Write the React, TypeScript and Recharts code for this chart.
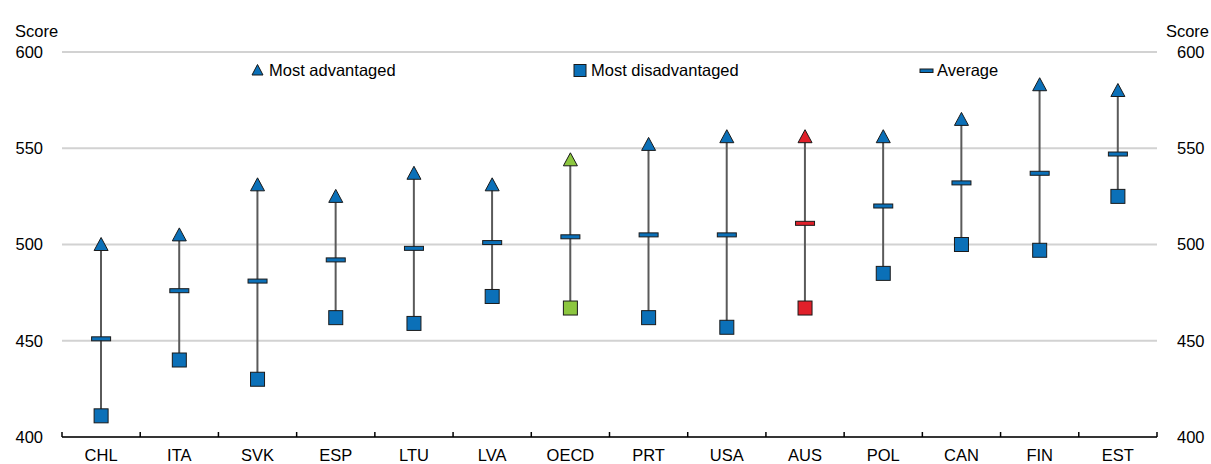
import { ComposedChart, Bar, Scatter, XAxis, YAxis, CartesianGrid } from 'recharts'

const categories = ['CHL', 'ITA', 'SVK', 'ESP', 'LTU', 'LVA', 'OECD', 'PRT', 'USA', 'AUS', 'POL', 'CAN', 'FIN', 'EST']
const mostAdvantaged = [500, 505, 531, 525, 537, 531, 544, 552, 556, 556, 556, 565, 583, 580]
const average = [451, 476, 481, 492, 498, 501, 504, 505, 505, 511, 520, 532, 537, 547]
const mostDisadvantaged = [411, 440, 430, 462, 459, 473, 467, 462, 457, 467, 485, 500, 497, 525]
const yTicks = [400, 450, 500, 550, 600]

const data = categories.map((country, i) => ({
  country,
  high: mostAdvantaged[i],
  avg: average[i],
  low: mostDisadvantaged[i],
  range: [mostDisadvantaged[i], mostAdvantaged[i]],
}))

const BLUE = '#0b70b8'
const EDGE = '#1a1a1a'
const FONT = '"Liberation Sans", Arial, sans-serif'
const FS = 16.5

// OECD and AUS are highlighted (average dash stays blue for OECD)
const markerColor = (country: string, series: 'high' | 'avg' | 'low') => {
  if (country === 'AUS') return '#e0202a'
  if (country === 'OECD' && series !== 'avg') return '#8cc63f'
  return BLUE
}

const Triangle = ({ cx, cy, payload }: any) => (
  <polygon
    points={`${cx},${cy - 7} ${cx - 7},${cy + 6} ${cx + 7},${cy + 6}`}
    fill={markerColor(payload.country, 'high')}
    stroke={EDGE}
    strokeWidth={1}
  />
)

const Square = ({ cx, cy, payload }: any) => (
  <rect x={cx - 7} y={cy - 7} width={14} height={14}
    fill={markerColor(payload.country, 'low')} stroke={EDGE} strokeWidth={1} />
)

const Dash = ({ cx, cy, payload }: any) => (
  <rect x={cx - 9.5} y={cy - 2} width={19} height={4}
    fill={markerColor(payload.country, 'avg')} stroke={EDGE} strokeWidth={1} />
)

const Nothing = () => <g />

const CountryTick = ({ x, y, payload, index }: any) => {
  const half = payload.offset ?? 39
  return (
    <g>
      <line x1={x - half} x2={x - half} y1={y} y2={y - 5} stroke="#000" strokeWidth={1.5} />
      {index === categories.length - 1 && (
        <line x1={x + half} x2={x + half} y1={y} y2={y - 5} stroke="#000" strokeWidth={1.5} />
      )}
      <text x={x} y={y + 24} textAnchor="middle" fontSize={FS} fill="#000" fontFamily={FONT}>
        {payload.value}
      </text>
    </g>
  )
}

const LegendOverlay = () => {
  const item = (left: number, icon: any, text: string) => (
    <div style={{ position: 'absolute', left, top: 0, display: 'flex', alignItems: 'center', whiteSpace: 'nowrap' }}>
      <svg width={16} height={16} style={{ marginRight: 3 }}>{icon}</svg>
      <span style={{ fontSize: FS, color: '#000', fontFamily: FONT, lineHeight: '20px' }}>{text}</span>
    </div>
  )
  return (
    <div style={{ position: 'absolute', left: 0, top: 60, width: 1211, height: 20, pointerEvents: 'none' }}>
      {item(250, <polygon points="7.5,2.5 2,13 13,13" fill={BLUE} stroke={EDGE} strokeWidth={1} />, 'Most advantaged')}
      {item(572, <rect x={2} y={2.5} width={12} height={12} fill={BLUE} stroke={EDGE} strokeWidth={1} />, 'Most disadvantaged')}
      {item(918, <rect x={2} y={7} width={13} height={3.5} fill={BLUE} stroke={EDGE} strokeWidth={1} />, 'Average')}
    </div>
  )
}

export default function App() {
  return (
    <div style={{ position: 'absolute', left: 0, top: 0, width: 1211, height: 464, background: '#fff' }}>
      <ComposedChart
        width={1211}
        height={464}
        data={data}
        margin={{ top: 52, right: 0, bottom: 0, left: 0 }}
        style={{ fontFamily: FONT }}
      >
        <CartesianGrid horizontal vertical={false} stroke="#d2d2d2" strokeWidth={2} yAxisId="left" />
        <XAxis
          dataKey="country"
          height={27}
          tickSize={0}
          tickMargin={0}
          tickLine={false}
          axisLine={{ stroke: '#000', strokeWidth: 1.5 }}
          tick={<CountryTick />}
          interval={0}
        />
        <YAxis
          yAxisId="left"
          domain={[400, 600]}
          ticks={yTicks}
          width={62}
          axisLine={false}
          tickLine={false}
          tickSize={0}
          tickMargin={19}
          tick={{ fontSize: FS, fill: '#000', fontFamily: FONT }}
          label={{
            content: ({ viewBox }: any) => (
              <text x={viewBox.x + 15} y={viewBox.y - 15} fontSize={FS} fill="#000" fontFamily={FONT}>Score</text>
            ),
          }}
        />
        <YAxis
          yAxisId="right"
          orientation="right"
          domain={[400, 600]}
          ticks={yTicks}
          width={54}
          axisLine={false}
          tickLine={false}
          tickSize={0}
          tickMargin={20}
          tick={{ fontSize: FS, fill: '#000', fontFamily: FONT }}
          label={{
            content: ({ viewBox }: any) => (
              <text x={viewBox.x + viewBox.width - 2} y={viewBox.y - 15} textAnchor="end" fontSize={FS} fill="#000" fontFamily={FONT}>Score</text>
            ),
          }}
        />
        <Scatter yAxisId="right" dataKey="avg" shape={<Nothing />} isAnimationActive={false} legendType="none" />
        <Scatter yAxisId="left" dataKey="high" shape={<Triangle />} isAnimationActive={false} />
        <Scatter yAxisId="left" dataKey="low" shape={<Square />} isAnimationActive={false} />
        <Scatter yAxisId="left" dataKey="avg" shape={<Dash />} isAnimationActive={false} />
        <Bar yAxisId="left" dataKey="range" barSize={2} fill="#5a5a5a" isAnimationActive={false} />
      </ComposedChart>
      <LegendOverlay />
    </div>
  )
}
